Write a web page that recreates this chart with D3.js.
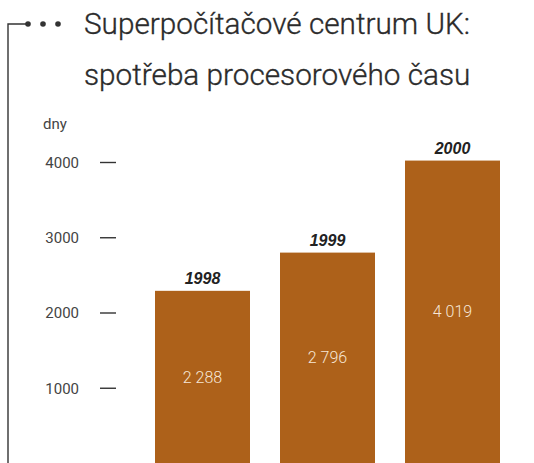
<!DOCTYPE html>
<html>
<head>
<meta charset="utf-8">
<script src="https://cdn.jsdelivr.net/npm/d3@7"></script>
<style>
  html, body { margin: 0; padding: 0; background: #fff; }
  svg { display: block; }
  .title { font-family: Roboto, "Noto Sans", sans-serif; font-weight: 300; font-size: 30px; fill: #2b2b2b; stroke: #2b2b2b; stroke-width: 0.35; }
  .axis text, text.unit { font-family: Roboto, "Noto Sans", sans-serif; font-weight: 400; font-size: 15px; fill: #444; }
  .axis line { stroke: #333; stroke-width: 1.4; }
  .year-label { font-family: "Liberation Sans", Arial, sans-serif; font-weight: bold; font-style: italic; font-size: 16px; fill: #222; }
  .value-label { font-family: Roboto, "Noto Sans", sans-serif; font-weight: 300; font-size: 16px; fill: #f6e6d6; }
</style>
</head>
<body>
<div id="chart"></div>
<script>
const years = ["1998", "1999", "2000"];
const cpu_days = [2288, 2796, 4019];
const tick_values = [1000, 2000, 3000, 4000];
const title_lines = ["Superpočítačové centrum UK:", "spotřeba procesorového času"];
const unit_label = "dny";

const __CONFIG__ = {
  width: 534,
  height: 463,
  bar_color: "#ad611a",
  line_color: "#333",
  title_width: 386
}

const cz = d3.formatLocale({decimal: ",", thousands: " ", grouping: [3], currency: ["", " Kč"]});
const format_value = cz.format(",d");

function draw_frame(svg, config=__CONFIG__) {
  // bracket line + dots in front of the title
  svg.append("path")
      .attr("d", `M8,${config.height} V24 H28`)
      .attr("fill", "none")
      .attr("stroke", config.line_color)
      .attr("stroke-width", 1.4);
  svg.append("g")
      .classed("dots", true)
    .selectAll("circle")
    .data([28, 43, 58])
    .join("circle")
      .attr("cx", d => d)
      .attr("cy", 24)
      .attr("r", 2.8)
      .attr("fill", config.line_color);
}

function draw_title(svg, config=__CONFIG__) {
  const title = svg.selectAll("text.title")
    .data(title_lines)
    .join("text")
      .classed("title", true)
      .text(d => d);
  // the original face is narrower: squeeze to the first line's width
  const w = title.nodes()[0].getComputedTextLength();
  const k = config.title_width / w;
  title.attr("transform", (d, i) => `translate(84,${34 + i * 51}) scale(${k},1)`);
}

function draw_chart(svg, config=__CONFIG__) {
  const x = d3.scaleBand()
      .domain(years)
      .range([155, 500])
      .paddingInner(0.24)
      .paddingOuter(0);

  const y = d3.scaleLinear()
      .domain([0, 4000])
      .range([config.height, 162]);

  const axis = d3.axisLeft(y)
      .tickValues(tick_values)
      .tickSize(16)
      .tickPadding(21)
      .tickFormat(d3.format("d"));

  const axis_g = svg.append("g")
      .classed("axis", true)
      .attr("transform", "translate(116,0)")
      .call(axis);
  axis_g.select(".domain").remove();
  axis_g.selectAll("text").attr("dy", "0.35em");

  svg.append("text")
      .classed("unit", true)
      .attr("x", 43)
      .attr("y", 129)
      .text(unit_label);

  const data = years.map((year, i) => ({year, value: cpu_days[i]}));

  const bars = svg.append("g").classed("bars", true)
    .selectAll("g.bar")
    .data(data)
    .join("g")
      .classed("bar", true);

  bars.append("rect")
      .attr("x", d => x(d.year))
      .attr("y", d => y(d.value))
      .attr("width", x.bandwidth())
      .attr("height", d => y(0) - y(d.value))
      .attr("fill", config.bar_color);

  bars.append("text")
      .classed("year-label", true)
      .attr("x", d => x(d.year) + x.bandwidth() / 2)
      .attr("y", d => y(d.value) - 7)
      .attr("text-anchor", "middle")
      .text(d => d.year);

  bars.append("text")
      .classed("value-label", true)
      .attr("x", d => x(d.year) + x.bandwidth() / 2)
      .attr("y", d => (y(d.value) + y(0)) / 2)
      .attr("dy", "0.35em")
      .attr("text-anchor", "middle")
      .text(d => format_value(d.value));
}

const svg = d3.select("#chart")
  .append("svg")
    .attr("width", __CONFIG__.width)
    .attr("height", __CONFIG__.height);

draw_frame(svg);
draw_title(svg);
draw_chart(svg);
</script>
</body>
</html>
